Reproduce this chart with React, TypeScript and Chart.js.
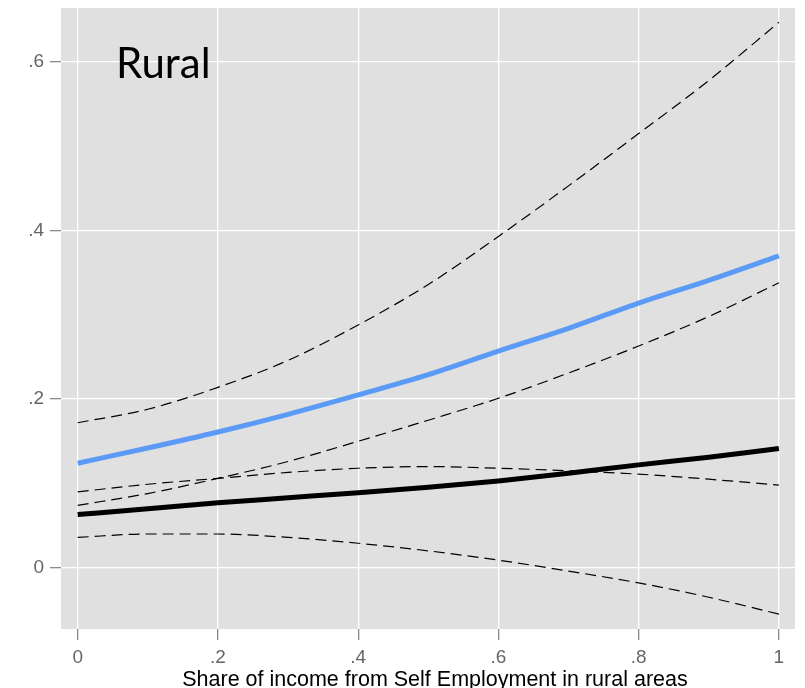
import React, { useEffect, useRef } from "react";
import { Chart, registerables } from "chart.js";

Chart.register(...registerables);

const xValues = [0, 0.1, 0.2, 0.3, 0.4, 0.5, 0.6, 0.7, 0.8, 0.9, 1];
const blueMean = [0.124, 0.142, 0.161, 0.182, 0.205, 0.229, 0.257, 0.284, 0.314, 0.341, 0.37];
const blueUpper = [0.172, 0.188, 0.214, 0.246, 0.288, 0.336, 0.393, 0.453, 0.515, 0.578, 0.647];
const blueLower = [0.074, 0.088, 0.106, 0.126, 0.15, 0.175, 0.201, 0.231, 0.263, 0.298, 0.338];
const blackMean = [0.063, 0.07, 0.077, 0.083, 0.089, 0.0955, 0.103, 0.112, 0.122, 0.131, 0.1415];
const blackUpper = [0.09, 0.099, 0.106, 0.113, 0.118, 0.12, 0.118, 0.115, 0.111, 0.105, 0.098];
const blackLower = [0.036, 0.04, 0.04, 0.036, 0.029, 0.02, 0.009, -0.004, -0.018, -0.035, -0.055];

const xTickValues = [0, 0.2, 0.4, 0.6, 0.8, 1];
const yTickValues = [0, 0.2, 0.4, 0.6];

const panelLabel = "Rural";
const xTitle = "Share of income from Self Employment in rural areas";

const toPoints = (ys: number[]) => ys.map((y, i) => ({ x: xValues[i], y }));
const fmt = (v: number) => {
  if (v === 0) return "0";
  if (v === 1) return "1";
  return String(Math.round(v * 10) / 10).replace(/^0/, "").replace(/^-0/, "-");
};

const bgPlugin = {
  id: "bgPanel",
  beforeDraw(chart: any) {
    const { ctx, chartArea } = chart;
    ctx.save();
    ctx.fillStyle = "#e0e0e0";
    ctx.fillRect(chartArea.left, chartArea.top, chartArea.right - chartArea.left, chartArea.bottom - chartArea.top);
    ctx.restore();
  },
  afterDraw(chart: any) {
    const { ctx, chartArea } = chart;
    ctx.save();
    ctx.fillStyle = "#000000";
    ctx.font = "42px Lato";
    ctx.textBaseline = "alphabetic";
    ctx.textAlign = "left";
    ctx.fillText(panelLabel, 116, 78);
    ctx.font = "21.5px 'Liberation Sans'";
    ctx.textAlign = "center";
    ctx.fillText(xTitle, (chartArea.left + chartArea.right) / 2 + 7, 686);
    ctx.restore();
  },
};

export default function App() {
  const ref = useRef<HTMLCanvasElement | null>(null);
  useEffect(() => {
    if (!ref.current) return;
    const dashed = (ys: number[]) => ({
      data: toPoints(ys),
      borderColor: "#000000",
      borderWidth: 1.2,
      borderDash: [11, 6],
      pointRadius: 0,
      cubicInterpolationMode: "monotone" as const,
      fill: false,
    });
    const chart = new Chart(ref.current, {
      type: "line",
      data: {
        datasets: [
          dashed(blueUpper),
          dashed(blueLower),
          dashed(blackUpper),
          dashed(blackLower),
          {
            data: toPoints(blackMean),
            borderColor: "#000000",
            borderWidth: 5,
            pointRadius: 0,
            cubicInterpolationMode: "monotone",
            fill: false,
          },
          {
            data: toPoints(blueMean),
            borderColor: "#5b9bf7",
            borderWidth: 5,
            pointRadius: 0,
            cubicInterpolationMode: "monotone",
            fill: false,
          },
        ],
      },
      options: {
        animation: false,
        responsive: false,
        devicePixelRatio: 1,
        layout: { padding: { top: 8, right: 10, left: 0, bottom: 0 } },
        plugins: { legend: { display: false }, tooltip: { enabled: false } },
        scales: {
          x: {
            type: "linear",
            min: -0.0238,
            max: 1.023,
            afterBuildTicks: (scale: any) => {
              scale.ticks = xTickValues.map((v) => ({ value: v }));
            },
            afterFit: (scale: any) => {
              scale.height = 59;
              scale.paddingLeft = 0;
              scale.paddingRight = 0;
            },
            grid: {
              color: "#ffffff",
              lineWidth: 1.3,
              tickColor: "#8a8a8a",
              tickLength: 11,
              drawTicks: true,
            },
            border: { display: false },
            ticks: {
              padding: 6,
              color: "#666666",
              font: { family: "Liberation Sans", size: 19 },
              callback: (v: any) => fmt(Number(v)),
              maxRotation: 0,
              autoSkip: false,
            },
            title: { display: false, text: xTitle },
          },
          y: {
            type: "linear",
            min: -0.0727,
            max: 0.664,
            afterBuildTicks: (scale: any) => {
              scale.ticks = yTickValues.map((v) => ({ value: v }));
            },
            afterFit: (scale: any) => {
              scale.width = 61;
              scale.paddingTop = 0;
              scale.paddingBottom = 0;
            },
            grid: {
              color: "#ffffff",
              lineWidth: 1.3,
              tickColor: "#8a8a8a",
              tickLength: 11,
              drawTicks: true,
            },
            border: { display: false },
            ticks: {
              padding: 6,
              color: "#666666",
              font: { family: "Liberation Sans", size: 19 },
              callback: (v: any) => fmt(Number(v)),
              autoSkip: false,
            },
          },
        },
      },
      plugins: [bgPlugin],
    });
    return () => chart.destroy();
  }, []);
  return (
    <div style={{ position: "absolute", left: 0, top: 0, width: 805, height: 688 }}>
      <canvas ref={ref} width={805} height={688} />
    </div>
  );
}
